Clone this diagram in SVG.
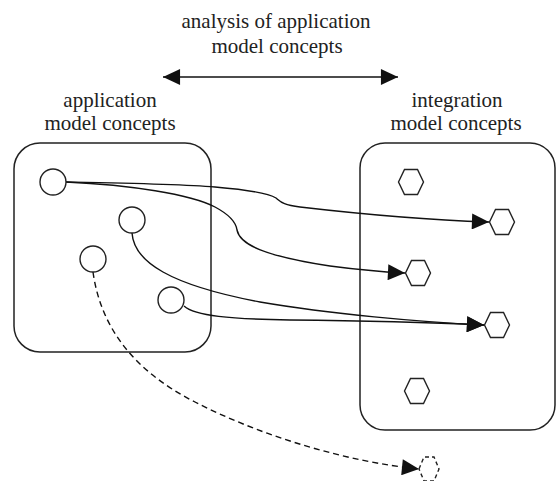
<svg xmlns="http://www.w3.org/2000/svg" width="557" height="481" viewBox="0 0 557 481">
<style>
.box{fill:none;stroke:#222;stroke-width:1.5}
.node{fill:#fff;stroke:#222;stroke-width:1.4}
.dnode{fill:#fff;stroke:#222;stroke-width:1.4;stroke-dasharray:4 3}
.link{fill:none;stroke:#111;stroke-width:1.4}
.dash{stroke-dasharray:6 4}
</style>
<defs>
<marker id="ah" markerUnits="userSpaceOnUse" markerWidth="18" markerHeight="16" refX="16" refY="7.5" orient="auto-start-reverse" viewBox="0 0 16 15">
<path d="M0,0 L16,7.5 L0,15 Z" fill="#111"/>
</marker>
</defs>
<g id="labels" font-family="Liberation Serif" font-size="21" fill="#222" text-anchor="middle">
<text x="276" y="28" font-family="Liberation Serif">analysis of application</text>
<text x="277" y="53" font-family="Liberation Serif">model concepts</text>
<text x="110" y="107" font-family="Liberation Serif">application</text>
<text x="110" y="130" font-family="Liberation Serif">model concepts</text>
<text x="457" y="107" font-family="Liberation Serif">integration</text>
<text x="456" y="130" font-family="Liberation Serif">model concepts</text>
</g>
<g id="app-box"><rect class="box" x="14" y="143" width="197" height="209" rx="26" ry="26"/></g>
<g id="int-box"><rect class="box" x="360" y="143" width="195" height="287" rx="25" ry="25"/></g>
<g id="connectors">
<path class="link" d="M163,77 L398,77" marker-start="url(#ah)" marker-end="url(#ah)"/>
<path class="link" d="M66,182 C120,183 180,184 215,187 C250,190 268,193 276,198 C281,202 283,205 300,207 C360,214 430,220 489,222" marker-end="url(#ah)"/>
<path class="link" d="M66,182 C130,185 190,194 215,207 C230,215 236,222 237,230 C240,245 265,256 330,266 C360,270 385,272 405,273" marker-end="url(#ah)"/>
<path class="link" d="M132,233 C134,262 170,285 260,302 C330,314 420,322 484,325" marker-end="url(#ah)"/>
<path class="link" d="M184,306 C195,316 230,319 290,320 C380,321 440,323 484,325" marker-end="url(#ah)"/>
<path class="link dash" d="M93,272 C100,322 128,368 195,402 C265,438 350,462 419,469" marker-end="url(#ah)"/>
</g>
<g id="a1"><circle class="node" cx="53" cy="182" r="13"/></g>
<g id="a2"><circle class="node" cx="132" cy="220" r="13"/></g>
<g id="a3"><circle class="node" cx="93" cy="259" r="13"/></g>
<g id="a4"><circle class="node" cx="171" cy="300" r="13"/></g>
<g id="i1"><polygon class="node" points="-12.5,0 -6.5,-12.5 6.5,-12.5 12.5,0 6.5,12.5 -6.5,12.5" transform="translate(411,182)"/></g>
<g id="i2"><polygon class="node" points="-12.5,0 -6.5,-12.5 6.5,-12.5 12.5,0 6.5,12.5 -6.5,12.5" transform="translate(502,222)"/></g>
<g id="i3"><polygon class="node" points="-12.5,0 -6.5,-12.5 6.5,-12.5 12.5,0 6.5,12.5 -6.5,12.5" transform="translate(418,273)"/></g>
<g id="i4"><polygon class="node" points="-12.5,0 -6.5,-12.5 6.5,-12.5 12.5,0 6.5,12.5 -6.5,12.5" transform="translate(497,325)"/></g>
<g id="i5"><polygon class="node" points="-12.5,0 -6.5,-12.5 6.5,-12.5 12.5,0 6.5,12.5 -6.5,12.5" transform="translate(417,391)"/></g>
<g id="i6"><polygon class="dnode" points="-10,0 -5,-12 5,-12 10,0 5,12 -5,12" transform="translate(429,469)"/></g>
</svg>
